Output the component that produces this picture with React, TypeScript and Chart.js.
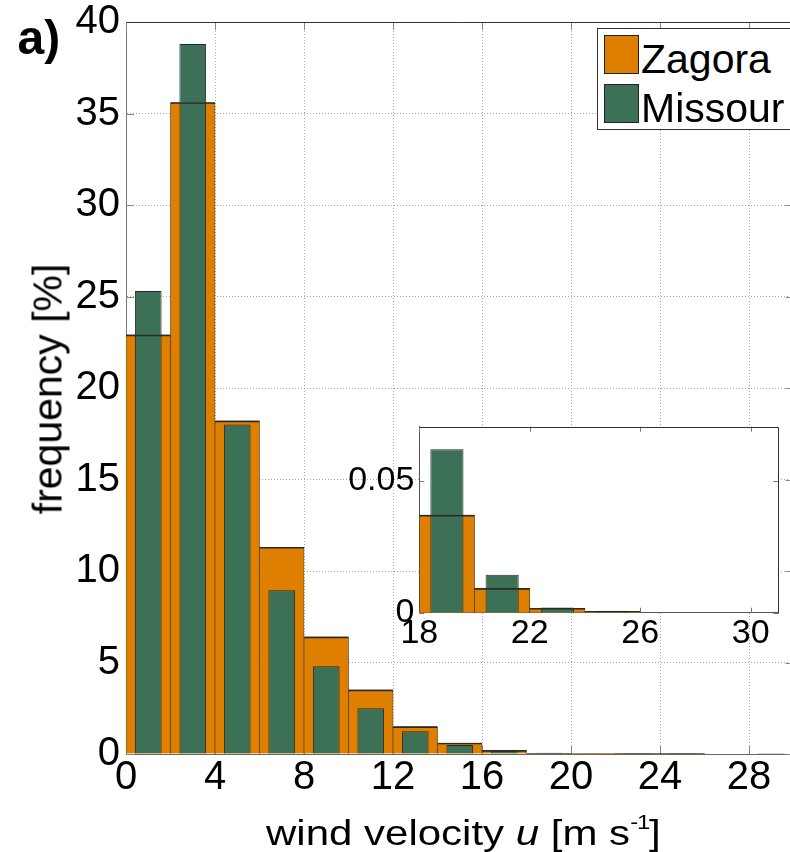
import React, { useEffect, useRef } from 'react';
import { Chart, registerables } from 'chart.js';

Chart.register(...registerables);

const FONT = '"Liberation Sans", Arial, Helvetica, sans-serif';

// ---- data ----
const binCenters = [1, 3, 5, 7, 9, 11, 13, 15, 17, 19, 21, 23, 25, 27, 29];
const zagora = [22.9, 35.6, 18.2, 11.3, 6.4, 3.5, 1.5, 0.6, 0.2, 0.037, 0.0092, 0.0017, 0.0005, 0, 0];
const missour = [25.3, 38.8, 18.0, 8.95, 4.8, 2.5, 1.24, 0.49, 0.18, 0.062, 0.0144, 0.002, 0.0007, 0, 0.0002];
const mainXTicks = [0, 4, 8, 12, 16, 20, 24, 28];
const mainYTicks = [0, 5, 10, 15, 20, 25, 30, 35, 40];
const insetFromBin = 19;
const insetXTicks = [18, 22, 26, 30];
const insetYTicks = [0, 0.05];
const seriesNames = ['Zagora', 'Missour'];

// ---- styles ----
const ORANGE = '#df7f00';
const GREEN = '#3c7158';
const EDGE = '#2a2a2a';
const GRID = '#a8a8a8';

const pts = (xs: number[], ys: number[]) => xs.map((x, i) => ({ x, y: ys[i] }));

function buildDatasets(xs: number[], zs: number[], ms: number[]) {
  return [
    {
      label: 'zagora-edge',
      data: pts(xs, zs),
      backgroundColor: 'rgba(0,0,0,0)',
      borderColor: EDGE,
      borderWidth: { top: 1, left: 0, right: 0, bottom: 0 },
      borderSkipped: false,
      barPercentage: 1,
      categoryPercentage: 1,
      grouped: false,
      order: 1,
    },
    {
      label: seriesNames[1],
      data: pts(xs, ms),
      backgroundColor: GREEN,
      borderColor: EDGE,
      borderWidth: 1,
      borderSkipped: 'start',
      barPercentage: 0.6,
      categoryPercentage: 1,
      grouped: false,
      order: 2,
    },
    {
      label: seriesNames[0],
      data: pts(xs, zs),
      backgroundColor: ORANGE,
      borderColor: EDGE,
      borderWidth: { top: 1, left: 0.6, right: 0.6, bottom: 0 },
      borderSkipped: false,
      barPercentage: 1,
      categoryPercentage: 1,
      grouped: false,
      order: 3,
    },
  ];
}

function framePlugin(id: string, color: string, tickLen: number, whiteBg: boolean) {
  return {
    id,
    beforeDraw(chart: any) {
      if (!whiteBg) return;
      const { ctx, chartArea: a } = chart;
      ctx.save();
      ctx.fillStyle = '#ffffff';
      ctx.fillRect(a.left, a.top, a.right - a.left, a.bottom - a.top);
      ctx.restore();
    },
    beforeDatasetsDraw(chart: any) {
      const { ctx, chartArea: a, scales } = chart;
      const x = scales.x;
      const y = scales.y;
      const al = (v: number) => Math.round(v) + 0.5;
      ctx.save();
      ctx.strokeStyle = color;
      ctx.lineWidth = 1;
      ctx.setLineDash([]);
      ctx.beginPath();
      x.ticks.forEach((t: any) => {
        const px = al(x.getPixelForValue(t.value));
        ctx.moveTo(px, a.bottom);
        ctx.lineTo(px, a.bottom - tickLen);
        ctx.moveTo(px, a.top);
        ctx.lineTo(px, a.top + tickLen);
      });
      y.ticks.forEach((t: any) => {
        const py = al(y.getPixelForValue(t.value));
        ctx.moveTo(a.left, py);
        ctx.lineTo(a.left + tickLen, py);
        ctx.moveTo(a.right, py);
        ctx.lineTo(a.right - tickLen, py);
      });
      ctx.stroke();
      ctx.strokeStyle = '#333';
      ctx.beginPath();
      ctx.moveTo(al(a.left), al(a.top));
      ctx.lineTo(al(a.right), al(a.top));
      ctx.lineTo(al(a.right), al(a.bottom));
      ctx.stroke();
      ctx.restore();
    },
  };
}

export default function App() {
  const mainRef = useRef<HTMLCanvasElement>(null);
  const insetRef = useRef<HTMLCanvasElement>(null);

  useEffect(() => {
    const tickFont = (size: number) => ({ family: FONT, size });

    const main = new Chart(mainRef.current as HTMLCanvasElement, {
      type: 'bar',
      data: { datasets: buildDatasets(binCenters, zagora, missour) as any },
      options: {
        responsive: false,
        animation: false,
        devicePixelRatio: 1,
        layout: { padding: { left: 0, top: 22, right: 6.5, bottom: 0 } },
        plugins: { legend: { display: false }, tooltip: { enabled: false }, title: { display: false } },
        scales: {
          x: {
            type: 'linear',
            min: 0,
            max: 30,
            offset: false,
            afterBuildTicks: (s: any) => {
              s.ticks = mainXTicks.map((v) => ({ value: v }));
            },
            afterFit: (s: any) => {
              s.height = 98;
              s.paddingLeft = 0;
              s.paddingRight = 0;
            },
            ticks: {
              font: tickFont(40),
              color: '#000',
              padding: 0,
              maxRotation: 0,
              autoSkip: false,
              callback: (v: any) => String(v),
            },
            grid: { color: GRID, lineWidth: 1, drawTicks: false, offset: false },
            border: { display: true, color: '#666', dash: [1, 2] },
          },
          y: {
            type: 'linear',
            min: 0,
            max: 40,
            afterBuildTicks: (s: any) => {
              s.ticks = mainYTicks.map((v) => ({ value: v }));
            },
            afterFit: (s: any) => {
              s.width = 126;
              s.paddingTop = 0;
              s.paddingBottom = 0;
            },
            ticks: {
              font: tickFont(40),
              color: '#000',
              padding: 6,
              callback: (v: any) => String(v),
            },
            grid: { color: GRID, lineWidth: 1, drawTicks: false },
            border: { display: true, color: '#777', dash: [1, 2] },
          },
        },
      } as any,
      plugins: [framePlugin('mainFrame', '#888', 8, false)],
    });

    const start = binCenters.indexOf(insetFromBin);
    const inset = new Chart(insetRef.current as HTMLCanvasElement, {
      type: 'bar',
      data: {
        datasets: buildDatasets(
          binCenters.slice(start),
          zagora.slice(start),
          missour.slice(start)
        ) as any,
      },
      options: {
        responsive: false,
        animation: false,
        devicePixelRatio: 1,
        layout: { padding: { left: 0, top: 16.7, right: 11.7, bottom: 0 } },
        plugins: { legend: { display: false }, tooltip: { enabled: false }, title: { display: false } },
        scales: {
          x: {
            type: 'linear',
            min: 18,
            max: 31,
            offset: false,
            afterBuildTicks: (s: any) => {
              s.ticks = insetXTicks.map((v) => ({ value: v }));
            },
            afterFit: (s: any) => {
              s.height = 47.3;
              s.paddingLeft = 0;
              s.paddingRight = 0;
            },
            ticks: {
              font: tickFont(34),
              color: '#000',
              padding: 1,
              maxRotation: 0,
              autoSkip: false,
              callback: (v: any) => String(v),
            },
            grid: { display: false, drawTicks: false },
            border: { display: true, color: '#555' },
          },
          y: {
            type: 'linear',
            min: 0,
            max: 0.0705,
            afterBuildTicks: (s: any) => {
              s.ticks = insetYTicks.map((v) => ({ value: v }));
            },
            afterFit: (s: any) => {
              s.width = 79.3;
              s.paddingTop = 0;
              s.paddingBottom = 0;
            },
            ticks: {
              font: tickFont(34),
              color: '#000',
              padding: 5,
              callback: (v: any) => String(v),
            },
            grid: { display: false, drawTicks: false },
            border: { display: true, color: '#555' },
          },
        },
      } as any,
      plugins: [framePlugin('insetFrame', '#777', 5, true)],
    });

    return () => {
      main.destroy();
      inset.destroy();
    };
  }, []);

  const txt: React.CSSProperties = {
    position: 'absolute',
    lineHeight: 0,
    whiteSpace: 'nowrap',
    fontFamily: FONT,
    color: '#000',
  };

  return (
    <div
      style={{
        position: 'fixed',
        left: 0,
        top: 0,
        width: 790,
        height: 852,
        overflow: 'hidden',
        background: '#fff',
      }}
    >
      <canvas
        ref={mainRef}
        width={800}
        height={852}
        style={{ position: 'absolute', left: 0, top: 0, width: 800, height: 852 }}
      />
      <canvas
        ref={insetRef}
        width={450}
        height={250}
        style={{ position: 'absolute', left: 340, top: 410, width: 450, height: 250 }}
      />
      <div style={{ ...txt, left: 17.5, top: 38.2, fontSize: 48, fontWeight: 'bold' }}>a)</div>
      <div
        style={{
          position: 'absolute',
          left: 48.2,
          top: 389,
          fontFamily: FONT,
          fontSize: 41,
          lineHeight: '41px',
          whiteSpace: 'nowrap',
          color: '#000',
          transform: 'translate(-50%, -50%) rotate(-90deg)',
        }}
      >
        frequency [%]
      </div>
      <div
        style={{
          ...txt,
          left: 266,
          top: 832.9,
          fontSize: 35,
          transform: 'scaleX(1.2)',
          transformOrigin: 'left center',
        }}
      >
        wind velocity <i>u</i> [m s
        <span style={{ fontSize: 20, position: 'relative', top: -16, letterSpacing: -1 }}>-1</span>]
      </div>
      <div
        style={{
          position: 'absolute',
          left: 597,
          top: 28,
          width: 200,
          height: 102,
          boxSizing: 'border-box',
          border: '1px solid #333',
          background: '#fff',
        }}
      />
      <div
        style={{
          position: 'absolute',
          left: 604,
          top: 35,
          width: 35,
          height: 39,
          boxSizing: 'border-box',
          border: '1px solid #222',
          background: ORANGE,
        }}
      />
      <div
        style={{
          position: 'absolute',
          left: 604,
          top: 84,
          width: 35,
          height: 39,
          boxSizing: 'border-box',
          border: '1px solid #222',
          background: GREEN,
        }}
      />
      <div style={{ ...txt, left: 641, top: 59.1, fontSize: 41 }}>{seriesNames[0]}</div>
      <div style={{ ...txt, left: 641, top: 107.5, fontSize: 41 }}>{seriesNames[1]}</div>
    </div>
  );
}
